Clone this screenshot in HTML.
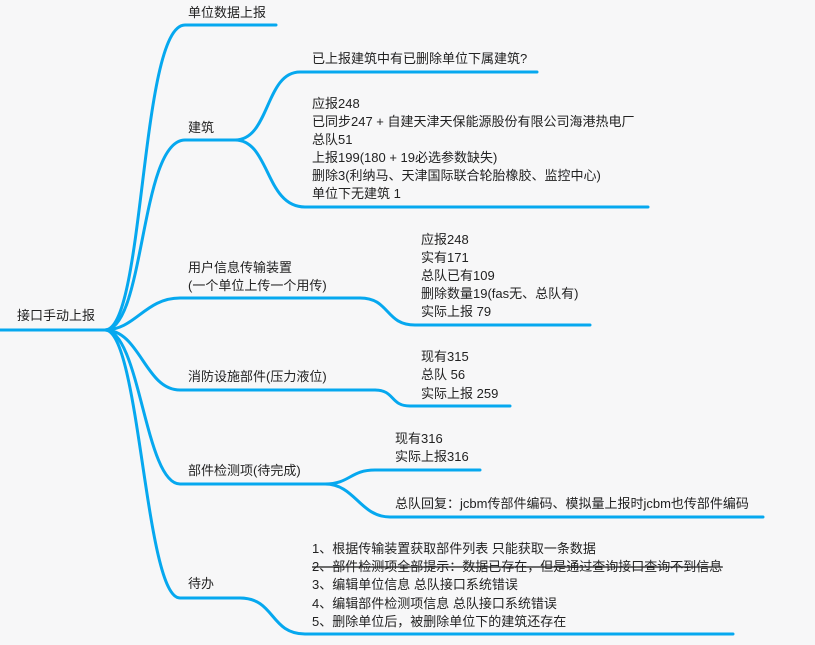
<!DOCTYPE html>
<html><head><meta charset="utf-8"><style>
html,body{margin:0;padding:0;background:#f7f7f8;}
svg{display:block;}
text{font-family:"Liberation Sans","Noto Sans CJK SC",sans-serif;font-size:13px;fill:#222;}
</style></head><body>
<svg width="815" height="645" viewBox="0 0 815 645">
<g fill="none" stroke="#06a8ef" stroke-width="3" stroke-linecap="round">
<path d="M0 330 L108 330"/>
<path d="M105 330 C145 330 140 25 185 25 L276 25"/>
<path d="M105 330 C145 330 140 140 185 140 L235 140"/>
<path d="M105 330 C135 330 145 298 180 298 L360 298"/>
<path d="M105 330 C140 330 145 390 180 390 L375 390"/>
<path d="M105 330 C140 330 145 484 180 484 L325 484"/>
<path d="M105 330 C140 330 145 598 180 598 L240 598"/>
<path d="M235 140 C270 140 265 72 300 72 L537 72"/>
<path d="M235 140 C270 140 265 207 305 207 L648 207"/>
<path d="M360 298 C390 298 385 325 415 325 L590 325"/>
<path d="M375 390 C395 390 390 406 410 406 L510 406"/>
<path d="M325 484 C350 484 350 470 375 470 L480 470"/>
<path d="M325 484 C355 484 360 517 390 517 L763 517"/>
<path d="M240 598 C275 598 270 634 305 634 L733 634"/>
</g>
<text x="17" y="320">接口手动上报</text>
<text x="188" y="17">单位数据上报</text>
<text x="188" y="132">建筑</text>
<text x="188" y="272">用户信息传输装置</text>
<text x="188" y="290">(一个单位上传一个用传)</text>
<text x="188" y="381">消防设施部件(压力液位)</text>
<text x="188" y="475">部件检测项(待完成)</text>
<text x="188" y="588">待办</text>
<text x="312" y="63">已上报建筑中有已删除单位下属建筑?</text>
<text x="312" y="108">应报248</text>
<text x="312" y="126">已同步247 + 自建天津天保能源股份有限公司海港热电厂</text>
<text x="312" y="144">总队51</text>
<text x="312" y="162">上报199(180 + 19必选参数缺失)</text>
<text x="312" y="180">删除3(利纳马、天津国际联合轮胎橡胶、监控中心)</text>
<text x="312" y="198">单位下无建筑 1</text>
<text x="421" y="244">应报248</text>
<text x="421" y="262">实有171</text>
<text x="421" y="280">总队已有109</text>
<text x="421" y="298">删除数量19(fas无、总队有)</text>
<text x="421" y="316">实际上报 79</text>
<text x="421" y="361">现有315</text>
<text x="421" y="379">总队 56</text>
<text x="421" y="398">实际上报 259</text>
<text x="395" y="443">现有316</text>
<text x="395" y="461">实际上报316</text>
<text x="395" y="508">总队回复：jcbm传部件编码、模拟量上报时jcbm也传部件编码</text>
<text x="312" y="553">1、根据传输装置获取部件列表 只能获取一条数据</text>
<text x="312" y="571" style="text-decoration:line-through">2、部件检测项全部提示：数据已存在，但是通过查询接口查询不到信息</text>
<line x1="312" y1="567" x2="723" y2="567" stroke="#222" stroke-width="1"/>
<text x="312" y="589">3、编辑单位信息 总队接口系统错误</text>
<text x="312" y="608">4、编辑部件检测项信息 总队接口系统错误</text>
<text x="312" y="626">5、删除单位后，被删除单位下的建筑还存在</text>
</svg>
</body></html>
